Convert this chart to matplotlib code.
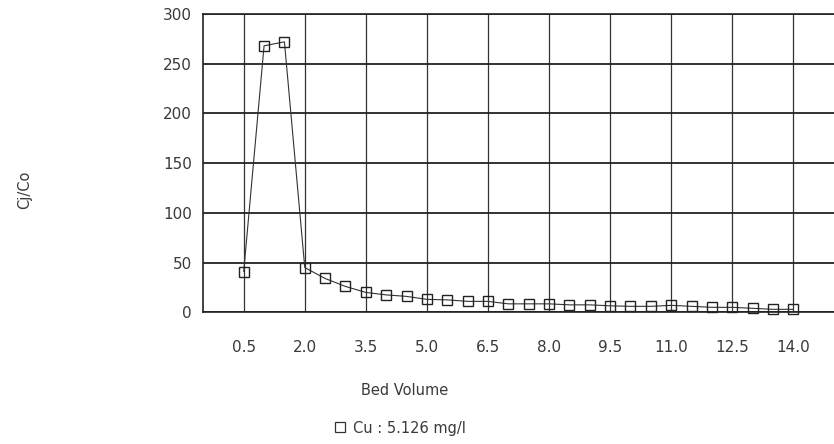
import matplotlib
matplotlib.use('Agg')
import matplotlib.pyplot as plt
from matplotlib.lines import Line2D

# Cu breakthrough data, Ci/Co against bed volume
bed_volume = [0.5, 1.0, 1.5, 2.0, 2.5, 3.0, 3.5, 4.0, 4.5, 5.0, 5.5, 6.0, 6.5, 7.0,
              7.5, 8.0, 8.5, 9.0, 9.5, 10.0, 10.5, 11.0, 11.5, 12.0, 12.5, 13.0,
              13.5, 14.0]
cu_ratio = [41, 268, 272, 45, 34, 26, 20, 17.5, 16, 13, 12.5, 11, 11, 8.5,
            8.5, 8.5, 7.5, 7.5, 6.5, 6, 6, 7, 6, 5, 5, 4, 3, 3]

xticks = [0.5, 2.0, 3.5, 5.0, 6.5, 8.0, 9.5, 11.0, 12.5, 14.0]
yticks = [0, 50, 100, 150, 200, 250, 300]

fig = plt.figure(figsize=(8.34, 4.44), dpi=100)
fig.patch.set_facecolor('white')

ax = fig.add_axes([203 / 834, 1 - 312.3 / 444, 631 / 834, 298.3 / 444])

ax.plot(bed_volume, cu_ratio, color='#333333', lw=0.8,
        marker='s', markersize=7.5, mfc='none', mec='#222222', mew=1.0,
        clip_on=False, zorder=3)

ax.set_xlim(-0.5, 15.0)
ax.set_ylim(0, 300)
ax.set_xticks(xticks)
ax.set_xticklabels(['{:.1f}'.format(v) for v in xticks])
ax.set_yticks(yticks)

ax.grid(axis='y', color='#222222', lw=1.3)
ax.grid(axis='x', color='#333333', lw=0.9)
ax.set_axisbelow(True)

for side in ['left', 'bottom', 'top']:
    ax.spines[side].set_color('#222222')
    ax.spines[side].set_linewidth(1.2)
ax.spines['right'].set_visible(False)

ax.tick_params(axis='both', length=0, labelsize=11, labelcolor='#3a3a3a')
ax.tick_params(axis='x', pad=20)
ax.tick_params(axis='y', pad=8)

fig.text(25 / 834, 1 - 190 / 444, 'Cj/Co', rotation=90, ha='center', va='center',
         fontsize=10.5, color='#3a3a3a')
fig.text(405 / 834, 1 - 390 / 444, 'Bed Volume', ha='center', va='center',
         fontsize=10.5, color='#3a3a3a')

handle = Line2D([], [], ls='none', marker='s', markersize=7.5, mfc='none',
                mec='#333333', mew=0.9)
fig.legend(handles=[handle], labels=['Cu : 5.126 mg/l'], loc='center',
           bbox_to_anchor=(400 / 834, 1 - 428 / 444), frameon=False,
           fontsize=10.5, labelcolor='#3a3a3a', handlelength=0.8,
           handletextpad=0.5)

fig.savefig('out.png', dpi=100)
